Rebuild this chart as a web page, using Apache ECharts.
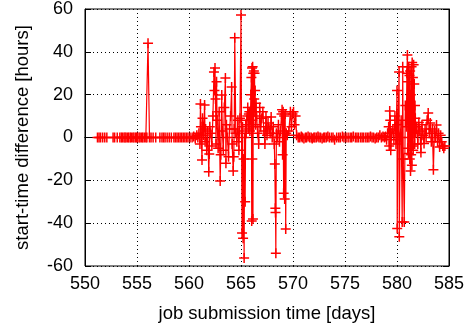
<!DOCTYPE html>
<html>
<head>
<meta charset="utf-8">
<script src="https://cdn.jsdelivr.net/npm/echarts@6/dist/echarts.min.js"></script>
<style>html,body{margin:0;padding:0;background:#fff}#c{width:468px;height:329px}</style>
</head>
<body>
<div id="c"></div>
<script>
// job submission time [days]
const times = [
551.2,551.35,551.5,551.7,551.9,552.1,552.7,552.85,553.1,553.35,
553.5,553.6,553.75,553.85,553.95,554.1,554.2,554.35,554.45,554.6,
554.7,554.85,554.95,555.05,555.2,555.3,555.45,555.55,555.7,555.85,
555.95,556.06,556.2,556.35,556.55,556.8,557.2,557.4,557.55,557.7,
557.9,558.1,558.3,558.55,558.7,558.85,559.0,559.15,559.3,559.45,
559.6,559.75,559.9,560.1,560.3,560.45,560.6,560.75,560.85,
560.95,561.05,561.1,561.15,561.25,561.3,561.4,561.5,561.55,561.6,
561.7,561.8,561.9,561.95,562.0,562.1,562.2,562.3,562.4,562.45,
562.5,562.55,562.6,562.65,562.7,562.8,562.9,563.0,563.05,563.15,
563.2,563.3,563.4,563.5,563.55,563.6,563.7,563.8,563.9,564.0,
564.1,564.15,564.25,564.3,564.35,564.4,564.5,564.6,564.7,564.8,
564.9,565.0,565.05,565.1,565.15,565.2,565.25,565.3,565.35,565.4,
565.45,565.5,565.55,565.6,565.65,565.7,565.75,565.8,565.85,565.9,
565.95,566.0,566.03,566.06,566.09,566.12,566.15,566.18,566.21,566.24,
566.27,566.3,566.33,566.36,566.4,566.45,566.5,566.6,566.7,566.8,
566.9,567.0,567.1,567.2,567.3,567.4,567.5,567.6,567.7,567.8,
567.9,568.0,568.1,568.2,568.25,568.3,568.32,568.35,568.4,568.5,
568.6,568.7,568.8,568.9,568.95,569.0,569.05,569.1,569.15,569.2,
569.25,569.3,569.35,569.45,569.6,569.75,569.85,569.95,570.05,570.15,
570.25,570.35,
570.5,570.65,570.8,570.9,571.05,571.2,571.3,571.45,571.6,571.75,
571.85,572.0,572.1,572.25,572.4,572.5,572.65,572.8,572.95,573.05,
573.2,573.35,573.5,573.7,573.85,574.0,574.2,574.4,574.55,574.75,
574.9,575.1,575.3,575.5,575.65,575.8,576.0,576.15,576.3,576.5,
576.65,576.8,577.0,577.15,577.3,577.45,577.6,577.75,577.9,578.05,
578.2,578.35,578.5,578.65,578.8,
578.9,579.0,579.1,579.2,579.25,579.3,579.35,579.4,579.5,579.6,
579.7,579.8,579.9,580.0,580.02,580.1,580.2,580.22,580.3,580.4,
580.5,580.55,580.6,580.7,580.8,580.9,580.95,581.0,581.03,581.06,
581.1,581.13,581.16,581.2,581.23,581.26,581.3,581.33,581.36,581.4,
581.43,581.46,581.5,581.53,581.56,581.6,581.63,581.66,581.7,581.73,
581.76,581.8,581.9,582.0,582.1,582.2,582.3,582.4,582.5,582.6,
582.7,582.8,582.9,583.0,583.1,583.2,583.3,583.4,583.5,583.6,
583.7,583.8,583.9,584.0,584.1,584.2,584.3,584.4,584.5,584.6
];
// start-time difference [hours]
const diffs = [
0,0,0,0,0,0,0,0,0,0,
0,0,0,0,0,0,0,0,0,0,
0,0,0,0,0,0,0,0,0,0,
0,44,0,0,0,0,0,0,0,0,
0,0,0,0,0,0,0,0,0,0,
0,0,0,0,0,0.5,-0.5,1,0,
2,-3,15.6,5,-10.5,9,1,15.2,-2,4,
-6,3,-16,-7.7,5,2,-4,10,30.6,22,
32.4,18,-3,26,8,-5,12,-20.3,-8,19.8,
3,-6,14,27.8,-12,6,0,-9,4,10,
23.6,-3,-15.6,-9,4,46.6,2,-2,8,-6,
9,57.2,3,-44.6,5,-47,-10,-56.3,0,-30,
6,2,8,10,14,4,11,12,3,8,
20,28,-39,32.4,-10,33,-38,30,5,31,
18,30,12,22,6,16,10,2,-3,14,
5,9,12,3,-3,9.6,1,6.8,4,2,
9.6,0,5,-3,-12.4,-33,-35,-54,2,0,
6,-2,3,11,13,-8,12,-26,10,-28.7,
11,-42.7,2,1,3,12,5,11,12,6,
10,1,
0,0,0.5,0,-0.5,0,0,0.5,0,0,
-0.5,0,0,0,0.5,0,0,-0.5,0,0,
0,0.5,0,0,0,-1,0,0,0,0.5,
0,0,0,0,0,0.5,0,0,0,0,
0,0,0,0,0,0.5,0,0,-0.5,0,
0,1,0,0.5,0,
0.5,-1,2,5,-4,12.4,8,-6,2,4,
-1,10,-3,22,-42.5,6,30.6,-46.4,0,8,
-39.4,33,-10,-39.4,15,5,30,38.5,-5,26,
-7.5,33,0,29,-10,31,-15.6,20,-8,33,
-13,35,-4,28,-6,34,2,25,-3,15,
9,2,5,-3,7,3,-7,6,1,-2.8,
4,0,8,11.4,2,6.8,-2,4,-15,3,
0,5.8,-2,2,-4.4,1,-2,-4,-5,-4
];
const xTicks = [550, 555, 560, 565, 570, 575, 580, 585];
const yTicks = [-60, -40, -20, 0, 20, 40, 60];

const data = times.map((t, i) => [t, diffs[i]]);
const plus = 'path://M4.25,0H5.75V4.25H10V5.75H5.75V10H4.25V5.75H0V4.25H4.25Z';
const font = '"Liberation Sans", Arial, Helvetica, sans-serif';
const chart = echarts.init(document.getElementById('c'), null, {renderer: 'canvas'});
const axisLineStyle = {color: '#000', width: 1};
chart.setOption({
  animation: false,
  backgroundColor: '#fff',
  grid: {left: 85, right: 19, top: 9, bottom: 63, show: true, borderColor: '#000', borderWidth: 1},
  xAxis: [{
    type: 'value', min: xTicks[0], max: xTicks[xTicks.length - 1], interval: 5,
    name: 'job submission time [days]', nameLocation: 'middle', nameGap: 38,
    nameTextStyle: {fontFamily: font, fontSize: 18.5, color: '#000'},
    axisLine: {show: true, lineStyle: axisLineStyle},
    axisTick: {show: true, inside: true, length: 6, lineStyle: axisLineStyle},
    axisLabel: {fontFamily: font, fontSize: 18, color: '#000', margin: 9},
    splitLine: {show: true, lineStyle: {color: '#000', type: [1, 3], width: 1}}
  }, {
    type: 'value', position: 'top', min: xTicks[0], max: xTicks[xTicks.length - 1], interval: 5,
    axisLine: {show: true, lineStyle: axisLineStyle},
    axisTick: {show: true, inside: true, length: 6, lineStyle: axisLineStyle},
    axisLabel: {show: false}, splitLine: {show: false}
  }],
  yAxis: [{
    type: 'value', min: yTicks[0], max: yTicks[yTicks.length - 1], interval: 20,
    name: 'start-time difference [hours]', nameLocation: 'middle', nameGap: 53,
    nameTextStyle: {fontFamily: font, fontSize: 18.5, color: '#000'},
    axisLine: {show: true, lineStyle: axisLineStyle},
    axisTick: {show: true, inside: true, length: 6, lineStyle: axisLineStyle},
    axisLabel: {fontFamily: font, fontSize: 18, color: '#000', margin: 12},
    splitLine: {show: true, lineStyle: {color: '#000', type: [1, 3], width: 1}}
  }, {
    type: 'value', position: 'right', min: yTicks[0], max: yTicks[yTicks.length - 1], interval: 20,
    axisLine: {show: true, lineStyle: axisLineStyle},
    axisTick: {show: true, inside: true, length: 6, lineStyle: axisLineStyle},
    axisLabel: {show: false}, splitLine: {show: false}
  }],
  series: [{
    type: 'line',
    data: data,
    symbol: plus,
    symbolSize: 10,
    showAllSymbol: true,
    lineStyle: {color: '#ff0000', width: 1.2},
    itemStyle: {color: '#ff0000'},
    z: 3
  }]
});
</script>
</body>
</html>
